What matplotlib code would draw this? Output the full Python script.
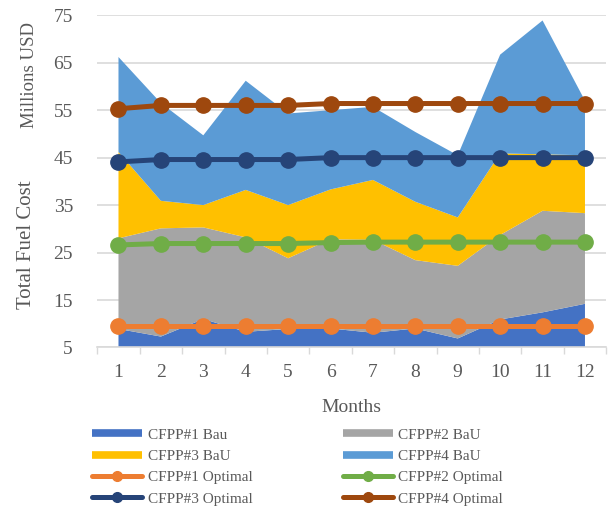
import matplotlib.pyplot as plt
from matplotlib.lines import Line2D
import numpy as np

plt.rcParams["font.family"] = ["Liberation Serif", "DejaVu Serif"]

months = np.arange(1, 13)

# Business-as-usual fuel cost per plant (millions USD), stacked
bau_1 = [8.9, 7.3, 11.0, 8.3, 8.9, 9.0, 8.1, 9.0, 6.9, 10.9, 12.4, 14.2]
bau_2 = [19.1, 22.8, 19.3, 19.9, 14.9, 18.8, 19.6, 14.4, 15.3, 17.8, 21.4, 19.1]
bau_3 = [18.2, 5.8, 4.7, 10.0, 11.2, 10.5, 12.6, 12.3, 10.2, 17.2, 11.9, 12.2]
bau_4 = [20.0, 20.6, 14.7, 23.0, 19.3, 16.7, 15.4, 14.7, 13.1, 20.8, 28.2, 11.5]

# Optimal fuel cost per plant (cumulative level, millions USD)
opt_1 = [9.6, 9.6, 9.6, 9.6, 9.6, 9.6, 9.6, 9.6, 9.6, 9.6, 9.6, 9.6]
opt_2 = [26.6, 26.9, 26.9, 26.9, 26.9, 27.1, 27.2, 27.2, 27.2, 27.2, 27.2, 27.2]
opt_3 = [44.1, 44.6, 44.6, 44.6, 44.6, 45.0, 45.0, 45.0, 45.0, 45.0, 45.0, 45.0]
opt_4 = [55.3, 56.0, 56.0, 56.0, 56.0, 56.4, 56.4, 56.4, 56.4, 56.4, 56.4, 56.4]

area_colors = ["#4472C4", "#A5A5A5", "#FFC000", "#5B9BD5"]
line_colors = ["#ED7D31", "#70AD47", "#264478", "#9E480E"]
text_gray = "#595959"

fig = plt.figure(figsize=(6.08, 5.08), dpi=100)
ax = fig.add_axes([0.16, 0.316, 0.837, 0.654])

ax.stackplot(months, bau_1, bau_2, bau_3, bau_4, colors=area_colors, linewidth=0)

for vals, c in zip([opt_1, opt_2, opt_3, opt_4], line_colors):
    ax.plot(months, vals, color=c, lw=3.6, marker="o", markersize=11, zorder=3)

ax.set_xlim(0.5, 12.5)
ax.set_ylim(5, 75)
ax.set_yticks(np.arange(5, 76, 10))
ax.set_xticks(months)
ax.set_xticks(np.arange(0.5, 12.6, 1), minor=True)
ax.tick_params(axis="x", which="major", length=0, pad=12, labelsize=14, labelcolor=text_gray)
ax.tick_params(axis="x", which="minor", length=5, color="#d9d9d9", width=1)
ax.tick_params(axis="y", length=0, pad=17.5, labelsize=14, labelcolor=text_gray)
ax.grid(axis="y", color="#d9d9d9", lw=1.2)
ax.set_axisbelow(True)
for s in ["top", "left", "right"]:
    ax.spines[s].set_visible(False)
ax.spines["bottom"].set_color("#d9d9d9")
ax.spines["bottom"].set_linewidth(1.2)

ax.set_xlabel("Months", fontsize=14, color=text_gray, labelpad=13)
fig.text(27 / 608, 1 - 245 / 508, "Total Fuel Cost", rotation=90, fontsize=15,
         color=text_gray, ha="center", va="center")
fig.text(30 / 608, 1 - 75 / 508, "Millions USD", rotation=90, fontsize=13.5,
         color=text_gray, ha="center", va="center")

# legend: Excel-style row order, two columns
def bar_handle(c):
    return Line2D([], [], color=c, lw=5.5, solid_capstyle="butt")

def line_handle(c):
    return Line2D([], [], color=c, lw=3.6, marker="o", markersize=7,
                  solid_capstyle="round")

handles = [bar_handle(area_colors[0]), bar_handle(area_colors[2]),
           line_handle(line_colors[0]), line_handle(line_colors[2]),
           bar_handle(area_colors[1]), bar_handle(area_colors[3]),
           line_handle(line_colors[1]), line_handle(line_colors[3])]
labels = ["CFPP#1 Bau", "CFPP#3 BaU", "CFPP#1 Optimal", "CFPP#3 Optimal",
          "CFPP#2 BaU", "CFPP#4 BaU", "CFPP#2 Optimal", "CFPP#4 Optimal"]
leg = fig.legend(handles, labels, ncol=2, loc="upper left",
                 bbox_to_anchor=(92 / 608, 1 - 428 / 508), frameon=False,
                 fontsize=11, handlelength=3.3, handletextpad=0.35,
                 columnspacing=5.9, labelspacing=0.5, borderpad=0,
                 borderaxespad=0)
for t in leg.get_texts():
    t.set_color(text_gray)

fig.savefig("out.png", dpi=100)
